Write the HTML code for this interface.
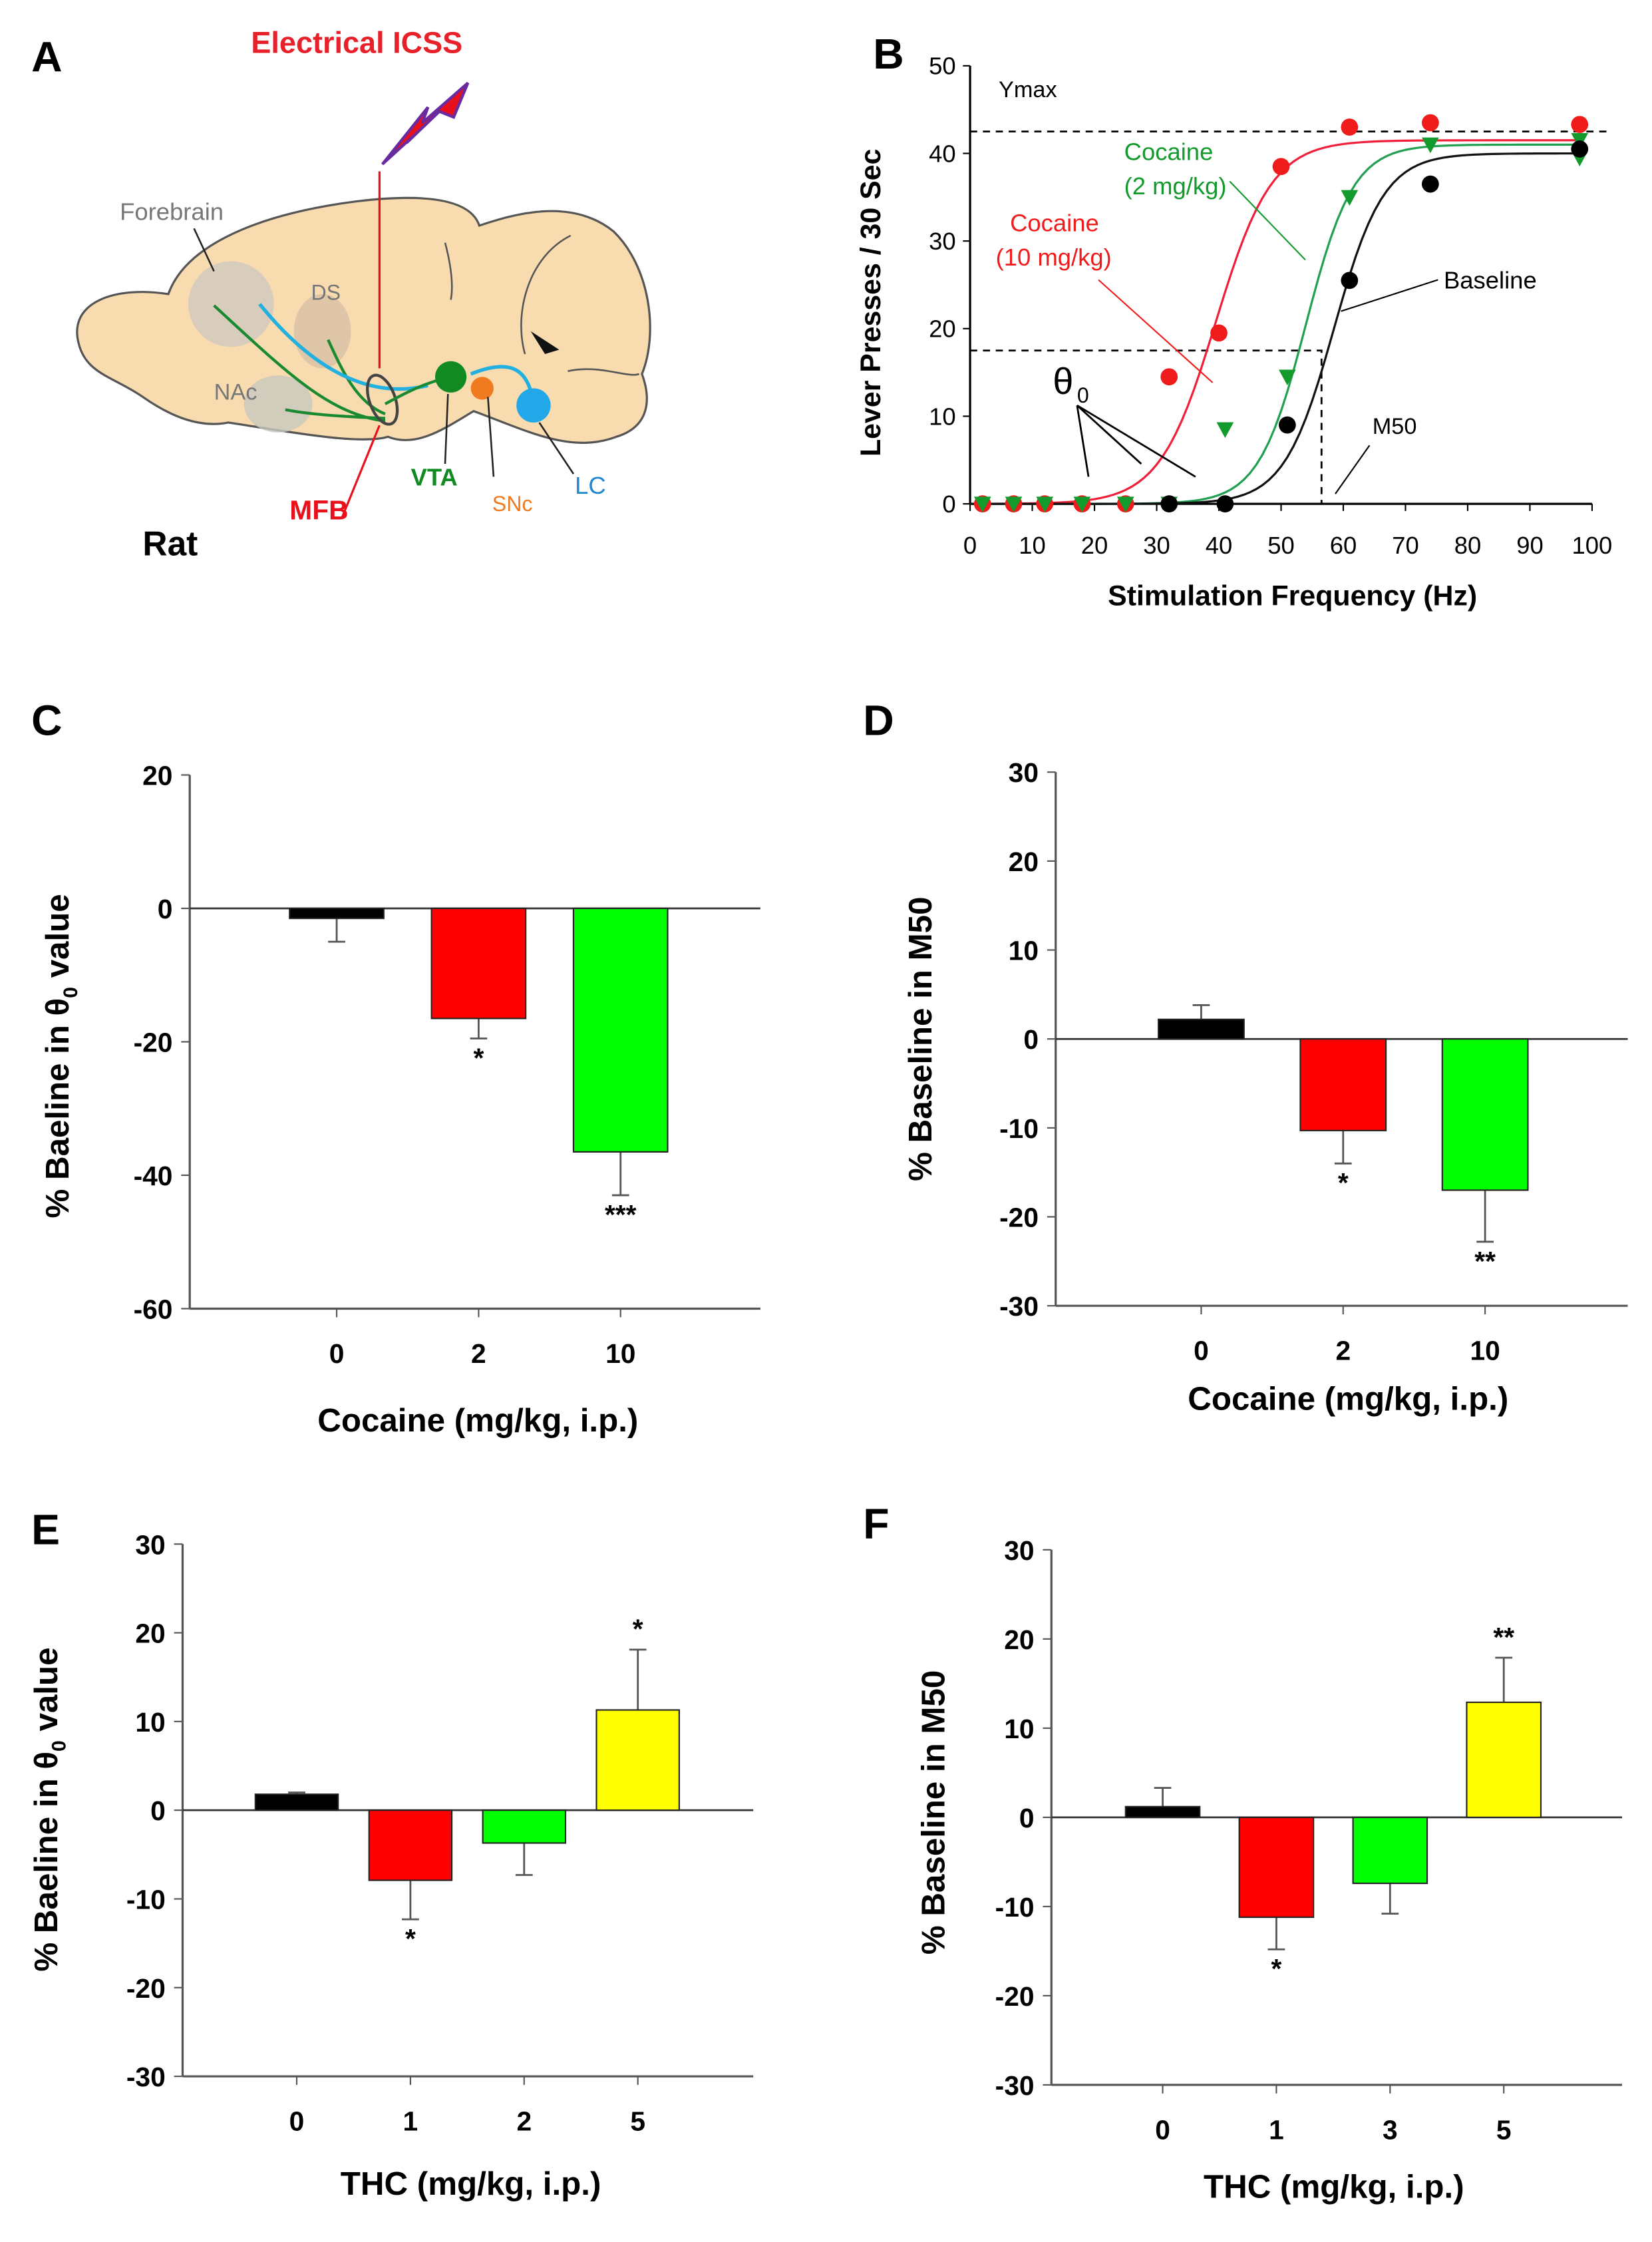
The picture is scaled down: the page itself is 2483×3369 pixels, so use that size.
<!DOCTYPE html>
<html><head><meta charset="utf-8"><style>
html,body{margin:0;padding:0;background:#fff}
svg{display:block}
text{font-family:"Liberation Sans",Arial,sans-serif}
</style></head><body>
<svg id="fig" width="2483" height="3369" viewBox="0 0 1158 1571" xmlns="http://www.w3.org/2000/svg">
<g id="panelA">
 <text x="22" y="50" font-size="30" font-weight="bold">A</text>
 <text x="176" y="37" font-size="21" font-weight="bold" fill="#e8202a">Electrical ICSS</text>
 <polygon points="268,115 300,75 296,86 328,58 318,82 308,78 285,100 290,95" fill="#e8101a" stroke="#6a2aa0" stroke-width="2"/>
 <path d="M55,240 C48,212 80,200 118,206 C130,172 180,150 250,141 C300,135 330,140 336,158 C360,150 400,138 430,162 C455,186 462,232 450,262 C458,284 452,300 432,306 C400,318 370,302 332,288 C312,300 292,314 272,306 C252,312 200,302 160,296 C140,300 120,292 100,278 C80,264 60,262 55,240 Z" fill="#f8dcb0" stroke="#555" stroke-width="1.5"/>
 <path d="M368,248 C360,220 370,180 400,165 M398,260 C420,255 440,265 448,262 M312,170 C316,185 318,200 316,210" fill="none" stroke="#555" stroke-width="1.2"/>
 <path d="M372,232 L392,245 L382,248 Z" fill="#111"/>
 <ellipse cx="162" cy="213" rx="30" ry="30" fill="#cfc8c0" opacity="0.8"/>
 <ellipse cx="226" cy="232" rx="20" ry="26" fill="#d8c0a8" opacity="0.8"/>
 <ellipse cx="195" cy="283" rx="24" ry="20" fill="#c8c8c0" opacity="0.8"/>
 <path d="M270,295 C230,290 200,260 150,214 M270,293 C240,292 215,290 200,287 M270,290 C250,282 240,260 230,238" fill="none" stroke="#1a8a30" stroke-width="2"/>
 <path d="M300,270 C260,280 220,260 182,213 M330,262 C360,250 370,260 374,282" fill="none" stroke="#22b0e0" stroke-width="2.5"/>
 <ellipse cx="268" cy="280" rx="9" ry="18" fill="none" stroke="#444" stroke-width="2" transform="rotate(-20 268 280)"/>
 <path d="M270,283 C290,272 300,268 315,264" stroke="#1a8a30" stroke-width="2" fill="none"/>
 <circle cx="316" cy="264" r="11" fill="#118a22"/>
 <circle cx="338" cy="272" r="8" fill="#f07a20"/>
 <circle cx="374" cy="284" r="12" fill="#22a8e8"/>
 <line x1="266" y1="120" x2="266" y2="258" stroke="#e8101a" stroke-width="1.5"/>
 <line x1="240" y1="362" x2="266" y2="298" stroke="#e8101a" stroke-width="1.5"/>
 <line x1="312" y1="325" x2="314" y2="276" stroke="#222" stroke-width="1.2"/>
 <line x1="346" y1="334" x2="342" y2="278" stroke="#222" stroke-width="1.2"/>
 <line x1="402" y1="332" x2="378" y2="296" stroke="#222" stroke-width="1.2"/>
 <line x1="136" y1="160" x2="150" y2="190" stroke="#222" stroke-width="1.2"/>
 <text x="84" y="154" font-size="17" fill="#777">Forebrain</text>
 <text x="218" y="210" font-size="15" fill="#777">DS</text>
 <text x="150" y="280" font-size="16" fill="#777">NAc</text>
 <text x="203" y="364" font-size="19" font-weight="bold" fill="#e8101a">MFB</text>
 <text x="288" y="340" font-size="17" font-weight="bold" fill="#118a22">VTA</text>
 <text x="345" y="358" font-size="15" fill="#f07a20">SNc</text>
 <text x="403" y="346" font-size="17" fill="#2288cc">LC</text>
 <text x="100" y="389" font-size="24" font-weight="bold">Rat</text>
</g>
<g id="panelB"></g>
<g id="bars"></g>
</svg>
<script>
var NS="http://www.w3.org/2000/svg";
function mk(parent,tag,attrs,txt){var e=document.createElementNS(NS,tag);for(var k in attrs)e.setAttribute(k,attrs[k]);if(txt!==undefined)e.textContent=txt;parent.appendChild(e);return e;}

// ---- Panel B data ----
var bXTicks=[0,10,20,30,40,50,60,70,80,90,100];
var bYTicks=[0,10,20,30,40,50];
var redX=[2,7,12,18,25,32,40,50,61,74,98];
var redY=[0,0,0,0,0,14.5,19.5,38.5,43,43.5,43.3];
var greenX=[2,7,12,18,25,32,41,51,61,74,98,98];
var greenY=[0,0,0,0,0,0,8.5,14.5,35,41,39.5,41.5];
var blackX=[32,41,51,61,74,98];
var blackY=[0,0,9,25.5,36.5,40.5];
var fitMax=[41.5,41,40];      // red, green, black
var fitMid=[39.5,54,58.5];
var fitSlope=[4.5,3.8,4];
var fitColors=["#f0203a","#20a050","#111"];

var B=document.getElementById('panelB');
var bx0=680,bx1=1116,by0=353,by1=46;
function BX(v){return bx0+(bx1-bx0)*v/100;}
function BY(v){return by0-(by0-by1)*v/50;}
var t=mk(B,'text',{x:612,y:48,'font-size':30,'font-weight':'bold'},'B');


var ax=mk(B,'line',{x1:bx0,y1:BY(50),x2:bx0,y2:by0,stroke:'#000','stroke-width':1.5});


var axx=mk(B,'line',{x1:bx0,y1:by0,x2:bx1,y2:by0,stroke:'#000','stroke-width':1.5});


bXTicks.forEach(function(v){
  mk(B,'line',{x1:BX(v),y1:by0,x2:BX(v),y2:by0+5,stroke:'#000'});
  var l=mk(B,'text',{x:BX(v),y:by0+35,'font-size':17,'text-anchor':'middle'},String(v));
  
  
});
bYTicks.forEach(function(v){
  mk(B,'line',{x1:bx0-5,y1:BY(v),x2:bx0,y2:BY(v),stroke:'#000'});
  var l=mk(B,'text',{x:bx0-10,y:BY(v)+6,'font-size':17,'text-anchor':'end'},String(v));
  
  
});
var yt=mk(B,'text',{x:0,y:0,'font-size':20,'font-weight':'bold','text-anchor':'middle',transform:'translate(617,212) rotate(-90)'},'Lever Presses / 30  Sec');


var xt=mk(B,'text',{x:906,y:424,'font-size':20,'font-weight':'bold','text-anchor':'middle'},'Stimulation Frequency (Hz)');


mk(B,'line',{x1:bx0,y1:BY(42.5),x2:1128,y2:BY(42.5),stroke:'#000','stroke-dasharray':'5,4','stroke-width':1.3});
mk(B,'polyline',{points:bx0+','+BY(17.5)+' '+BX(56.5)+','+BY(17.5)+' '+BX(56.5)+','+by0,fill:'none',stroke:'#000','stroke-dasharray':'5,4','stroke-width':1.3});
for(var c=0;c<3;c++){
  var pts=[];
  for(var f=0;f<=98;f+=1){var y=fitMax[c]/(1+Math.exp(-(f-fitMid[c])/fitSlope[c]));pts.push(BX(f)+','+BY(y));}
  var pl=mk(B,'polyline',{points:pts.join(' '),fill:'none',stroke:fitColors[c],'stroke-width':1.5});
  
  
}
redX.forEach(function(v,i){var p=mk(B,'circle',{cx:BX(v),cy:BY(redY[i]),r:6,fill:'#f01c1c'});
  
  });
greenX.forEach(function(v,i){var x=BX(v),y=BY(greenY[i]);var p=mk(B,'polygon',{points:(x-6)+','+(y-5)+' '+(x+6)+','+(y-5)+' '+x+','+(y+6),fill:'#139a2c'});
  
  });
blackX.forEach(function(v,i){var p=mk(B,'circle',{cx:BX(v),cy:BY(blackY[i]),r:6,fill:'#000'});
  
  });
function lab(x,y,s,txt,col,name,w){var e=mk(B,'text',{x:x,y:y,'font-size':s,fill:col,'font-weight':w||'normal'},txt);
  
  }
lab(700,68,16,'Ymax','#000','ymax-label');
lab(788,112,17,'Cocaine','#139a2c','cocaine-2-label');
lab(788,136,17,'(2 mg/kg)','#139a2c','cocaine-2-label-dose');
lab(708,162,17,'Cocaine','#f01c1c','cocaine-10-label');
lab(698,186,17,'(10 mg/kg)','#f01c1c','cocaine-10-label-dose');
lab(1012,202,17,'Baseline','#000','baseline-label');
lab(962,304,16,'M50','#000','m50-label');
lab(738,276,26,'θ','#000','theta0-label');
lab(755,282,15,'0','#000','theta0-subscript');
mk(B,'line',{x1:862,y1:127,x2:915,y2:182,stroke:'#139a2c'});
mk(B,'line',{x1:770,y1:196,x2:850,y2:268,stroke:'#f01c1c'});
mk(B,'line',{x1:1008,y1:196,x2:940,y2:218,stroke:'#000'});
mk(B,'line',{x1:960,y1:312,x2:936,y2:346,stroke:'#000'});
[[763,334],[800,325],[838,334]].forEach(function(p){mk(B,'line',{x1:755,y1:284,x2:p[0],y2:p[1],stroke:'#000','stroke-width':1.3});});

// ---- Bar panels data ----
var cCats=["0","2","10"], cVals=[-1.5,-16.5,-36.5], cErr=[-5,-19.5,-43], cStars=["","*","***"], cTicks=[20,0,-20,-40,-60];
var dCats=["0","2","10"], dVals=[2.2,-10.3,-17], dErr=[3.8,-14,-22.8], dStars=["","*","**"], dTicks=[30,20,10,0,-10,-20,-30];
var eCats=["0","1","2","5"], eVals=[1.8,-7.9,-3.7,11.3], eErr=[2.0,-12.3,-7.3,18.1], eStars=["","*","","*"], eTicks=[30,20,10,0,-10,-20,-30];
var fCats=["0","1","3","5"], fVals=[1.2,-11.2,-7.4,12.9], fErr=[3.3,-14.8,-10.8,17.9], fStars=["","*","","**"], fTicks=[30,20,10,0,-10,-20,-30];
var barColorsC=["#000","#ff0000","#00ff00"];
var barColorsE=["#000","#ff0000","#00ff00","#ffff00"];

var G=document.getElementById('bars');
function barPanel(o){
  var g=mk(G,'g',{});
  
  
  var ymax=o.ticks[0],ymin=o.ticks[o.ticks.length-1];
  function Y(v){return o.top+(o.bot-o.top)*(ymax-v)/(ymax-ymin);}
  var L=mk(g,'text',{x:o.lx,y:o.ly,'font-size':30,'font-weight':'bold'},o.label);
  
  
  mk(g,'line',{x1:o.ax,y1:o.top,x2:o.ax,y2:o.bot,stroke:'#555','stroke-width':1.5});
  mk(g,'line',{x1:o.ax,y1:o.bot,x2:o.right,y2:o.bot,stroke:'#555','stroke-width':1.5});
  mk(g,'line',{x1:o.ax,y1:Y(0),x2:o.right,y2:Y(0),stroke:'#333','stroke-width':1.3});
  o.ticks.forEach(function(v){
    mk(g,'line',{x1:o.ax-6,y1:Y(v),x2:o.ax,y2:Y(v),stroke:'#555'});
    var t=mk(g,'text',{x:o.ax-12,y:Y(v)+7,'font-size':19,'font-weight':'bold','text-anchor':'end'},String(v));
    
    
  });
  o.cats.forEach(function(cat,i){
    var cx=o.c0+i*o.step,v=o.vals[i],e=o.err[i];
    mk(g,'line',{x1:cx,y1:o.bot,x2:cx,y2:o.bot+6,stroke:'#555'});
    var yv=Y(v),y0=Y(0);
    mk(g,'line',{x1:cx,y1:yv,x2:cx,y2:Y(e),stroke:'#555','stroke-width':1.3});
    mk(g,'line',{x1:cx-6,y1:Y(e),x2:cx+6,y2:Y(e),stroke:'#555','stroke-width':1.3});
    var r=mk(g,'rect',{x:cx-o.bw/2,y:Math.min(yv,y0),width:o.bw,height:Math.max(Math.abs(yv-y0),2),fill:o.colors[i],stroke:'#222','stroke-width':1});
    
    
    var tl=mk(g,'text',{x:cx,y:o.bot+38,'font-size':19,'font-weight':'bold','text-anchor':'middle'},cat);
    
    
    if(o.stars[i]){var sy=e<0?Y(e)+20:Y(e)-8;
      var s=mk(g,'text',{x:cx,y:sy,'font-size':19,'font-weight':'bold','text-anchor':'middle'},o.stars[i]);
      
      }
  });
  var xt=mk(g,'text',{x:o.xtx,y:o.xty,'font-size':23,'font-weight':'bold','text-anchor':'middle'},o.xtitle);
  
  
  var yt=mk(g,'text',{x:0,y:0,'font-size':23,'font-weight':'bold','text-anchor':'middle',transform:'translate('+o.ytx+','+o.yty+') rotate(-90)'});
  
  
  if(o.theta){yt.appendChild(document.createTextNode('% Baeline in θ'));mk(yt,'tspan',{'font-size':14,dy:6},'0');mk(yt,'tspan',{dy:-6},' value');}
  else yt.textContent=o.ytitle;
}
barPanel({name:'panel-c',label:'C',lx:22,ly:515,ax:133,top:543,bot:917,right:533,ticks:cTicks,cats:cCats,vals:cVals,err:cErr,stars:cStars,colors:barColorsC,c0:236,step:99.5,bw:66,xtitle:'Cocaine (mg/kg, i.p.)',xtx:335,xty:1003,ytx:48,yty:740,theta:true});
barPanel({name:'panel-d',label:'D',lx:605,ly:515,ax:740,top:541,bot:915,right:1141,ticks:dTicks,cats:dCats,vals:dVals,err:dErr,stars:dStars,colors:barColorsC,c0:842,step:99.5,bw:60,xtitle:'Cocaine (mg/kg, i.p.)',xtx:945,xty:988,ytx:653,yty:728,ytitle:'% Baseline in M50'});
barPanel({name:'panel-e',label:'E',lx:22,ly:1082,ax:128,top:1082,bot:1455,right:528,ticks:eTicks,cats:eCats,vals:eVals,err:eErr,stars:eStars,colors:barColorsE,c0:208,step:79.7,bw:58,xtitle:'THC (mg/kg, i.p.)',xtx:330,xty:1538,ytx:40,yty:1268,theta:true});
barPanel({name:'panel-f',label:'F',lx:605,ly:1078,ax:737,top:1086,bot:1461,right:1137,ticks:fTicks,cats:fCats,vals:fVals,err:fErr,stars:fStars,colors:barColorsE,c0:815,step:79.7,bw:52,xtitle:'THC (mg/kg, i.p.)',xtx:935,xty:1540,ytx:662,yty:1270,ytitle:'% Baseline in M50'});
</script>
</body></html>
